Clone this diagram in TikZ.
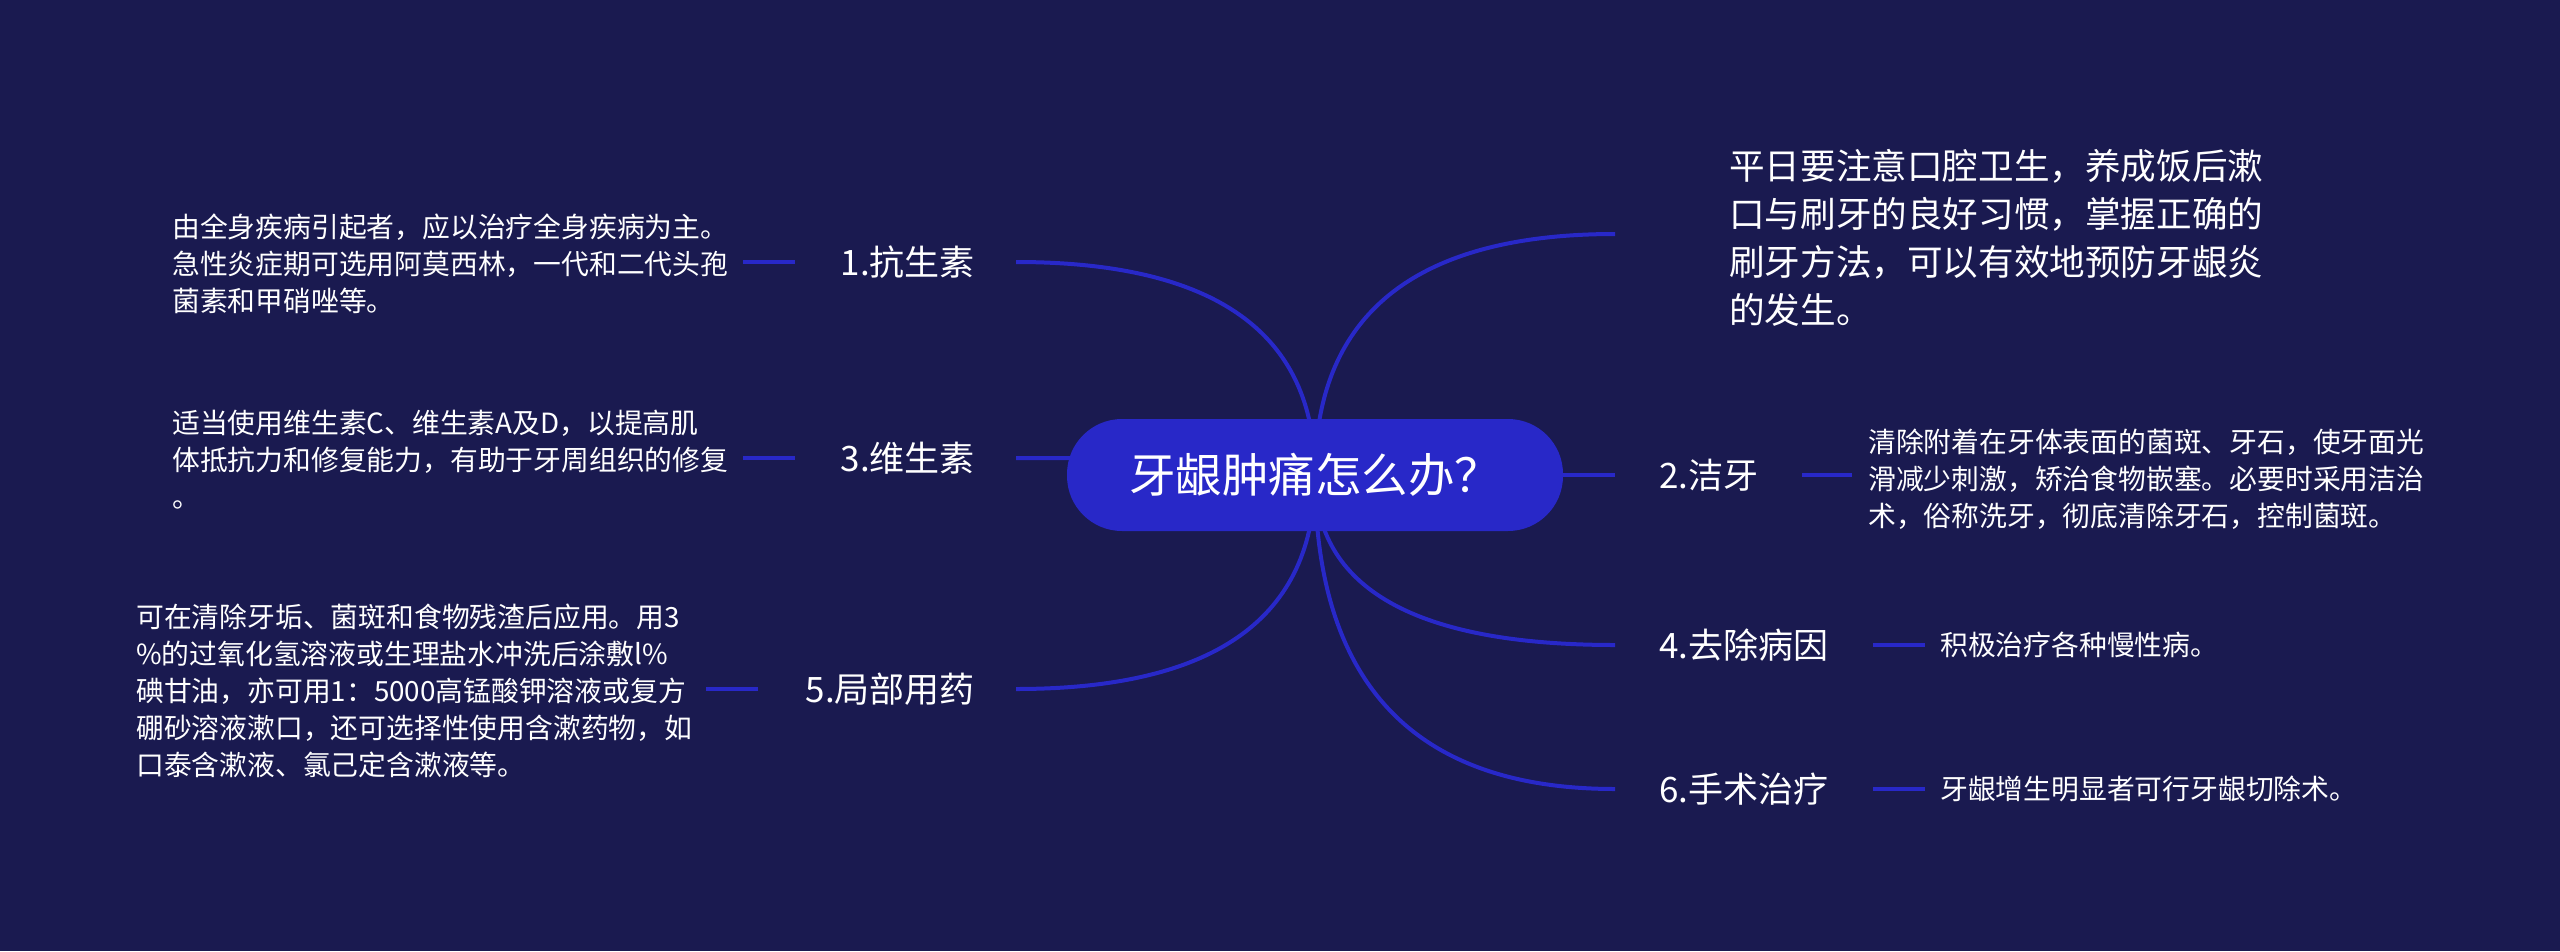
\documentclass[tikz,border=0pt]{standalone}
\usepackage{fontspec}
\setmainfont{Noto Sans CJK SC}
\usetikzlibrary{calc}
\definecolor{bgc}{HTML}{1A1A50}
\definecolor{blu}{HTML}{2828C8}
\newcommand\brcurve[2]{\draw[br] (#1) .. controls ($(#1)!0.6667!(#1|-#2)$) and ($(#2)!0.6667!(#1|-#2)$) .. (#2);}
\begin{document}
\begin{tikzpicture}[x=1pt,y=-1pt,
  br/.style={draw=blu, line width=4pt},
  central/.style={fill=blu, rounded corners=55pt, minimum width=496pt, minimum height=112pt, text=white, inner sep=0pt, font=\fontsize{46.5}{54}\selectfont},
  lab/.style={text=white, inner sep=0pt, font=\fontsize{35}{42}\selectfont},
  desc/.style={text=white, inner sep=0pt, align=left, font=\fontsize{27.8}{37}\selectfont},
  bigdesc/.style={desc, font=\fontsize{35.6}{48}\selectfont}]
\fill[bgc] (0,0) rectangle (2560,951);
\useasboundingbox (0,0) rectangle (2560,951);

\coordinate (cc) at (1315,475);
\coordinate (eL1) at (1016,262);
\coordinate (eL3) at (1016,458);
\coordinate (eL5) at (1016,689);
\coordinate (eR0) at (1615,234);
\coordinate (eR2) at (1615,475);
\coordinate (eR4) at (1615,645);
\coordinate (eR6) at (1615,789);

\brcurve{cc}{eL1}
\brcurve{cc}{eL3}
\brcurve{cc}{eL5}
\brcurve{cc}{eR0}
\draw[br] (cc) -- (eR2);
\brcurve{cc}{eR4}
\brcurve{cc}{eR6}

\node[central] (c) at (cc) {牙龈肿痛怎么办？};

% labels
\node[lab, anchor=east] (l1) at (975,262) {1.抗生素};
\node[lab, anchor=east] (l3) at (975,458) {3.维生素};
\node[lab, anchor=east] (l5) at (975,689) {5.局部用药};
\node[lab, anchor=west] (l2) at (1659,475) {2.洁牙};
\node[lab, anchor=west] (l4) at (1659,645) {4.去除病因};
\node[lab, anchor=west] (l6) at (1659,789) {6.手术治疗};

% short connectors
\coordinate (a1) at (743,262); \coordinate (b1) at (795,262);
\coordinate (a3) at (743,458); \coordinate (b3) at (795,458);
\coordinate (a5) at (706,689); \coordinate (b5) at (758,689);
\coordinate (a2) at (1802,475); \coordinate (b2) at (1852,475);
\coordinate (a4) at (1873,645); \coordinate (b4) at (1925,645);
\coordinate (a6) at (1873,789); \coordinate (b6) at (1925,789);
\foreach \i in {1,2,3,4,5,6} { \draw[br] (a\i) -- (b\i); }

% descriptions
\node[desc, anchor=west] (d1) at (172,264) {由全身疾病引起者，应以治疗全身疾病为主。\\急性炎症期可选用阿莫西林，一代和二代头孢\\菌素和甲硝唑等。};
\node[desc, anchor=west] (d3) at (172,460) {适当使用维生素C、维生素A及D，以提高肌\\体抵抗力和修复能力，有助于牙周组织的修复\\。};
\node[desc, anchor=west] (d5) at (136,691) {可在清除牙垢、菌斑和食物残渣后应用。用3\\\%的过氧化氢溶液或生理盐水冲洗后涂敷l\%\\碘甘油，亦可用1：5000高锰酸钾溶液或复方\\硼砂溶液漱口，还可选择性使用含漱药物，如\\口泰含漱液、氯己定含漱液等。};
\node[desc, anchor=west] (d2) at (1868,479) {清除附着在牙体表面的菌斑、牙石，使牙面光\\滑减少刺激，矫治食物嵌塞。必要时采用洁治\\术，俗称洗牙，彻底清除牙石，控制菌斑。};
\node[desc, anchor=west] (d4) at (1940,645) {积极治疗各种慢性病。};
\node[desc, anchor=west] (d6) at (1940,789) {牙龈增生明显者可行牙龈切除术。};
\node[bigdesc, anchor=west] (d0) at (1729,238) {平日要注意口腔卫生，养成饭后漱\\口与刷牙的良好习惯，掌握正确的\\刷牙方法，可以有效地预防牙龈炎\\的发生。};
\end{tikzpicture}
\end{document}
